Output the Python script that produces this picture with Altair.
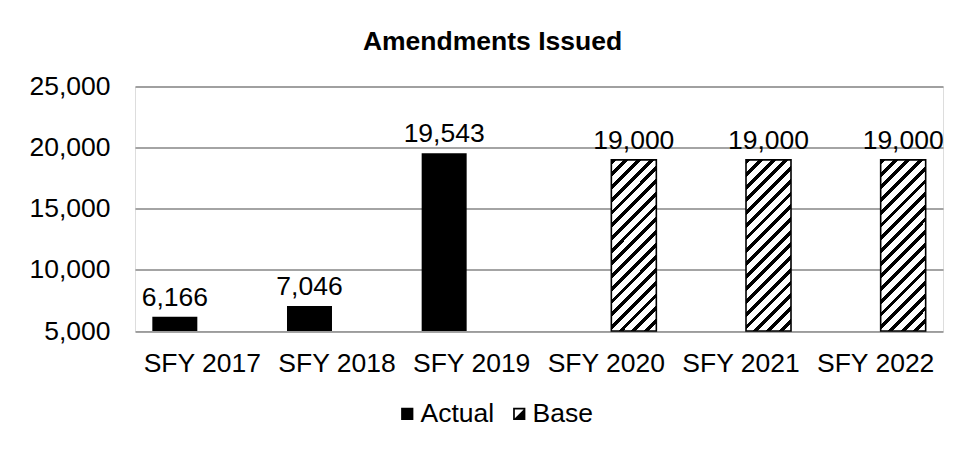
import altair as alt
import pandas as pd

# ---- data ----
years = ["SFY 2017", "SFY 2018", "SFY 2019", "SFY 2020", "SFY 2021", "SFY 2022"]
series_names = ["Actual", "Base"]
actual_years = ["SFY 2017", "SFY 2018", "SFY 2019"]
actual_values = [6166, 7046, 19543]
base_years = ["SFY 2020", "SFY 2021", "SFY 2022"]
base_values = [19000, 19000, 19000]
y_ticks = [5000, 10000, 15000, 20000, 25000]
title_text = "Amendments Issued"

df = pd.DataFrame({
    "year": actual_years + base_years,
    "value": actual_values + base_values,
    "series": ["Actual"] * len(actual_years) + ["Base"] * len(base_years),
})

FONT = "Liberation Sans"
FS = 26.5
GRID = "#868686"

# diagonal hatch fill (style only)
n_periods = 17
black_frac = 0.38
stops = []
for k in range(n_periods):
    a = k / n_periods
    b = (k + black_frac) / n_periods
    c = (k + 1) / n_periods
    stops += [
        {"offset": a, "color": "black"},
        {"offset": b, "color": "black"},
        {"offset": b, "color": "white"},
        {"offset": c, "color": "white"},
    ]
hatch = {"gradient": "linear", "x1": 0, "y1": 0, "x2": 0.311, "y2": 1.181, "stops": stops}

BASE_SYMBOL = ("M-1,-1L1,-1L1,1L-1,1Z"
               "M-0.72,-0.72L-0.72,0.72L0.72,0.72L0.72,-0.72Z"
               "M0.72,-0.72L0.72,0.72L-0.72,0.72Z")

x_enc = alt.X(
    "year:N", sort=years,
    scale=alt.Scale(domain=years, paddingInner=0.2574, paddingOuter=0.1287),
    axis=alt.Axis(title=None, labelAngle=0, ticks=False, tickSize=0, domain=False,
                  labelPadding=19, labelFontSize=FS, labelColor="black",
                  labelFont=FONT, labelOverlap=False, grid=False),
)
xo_enc = alt.XOffset("series:N", scale=alt.Scale(domain=series_names, paddingInner=0.182, paddingOuter=0))
y_enc = alt.Y(
    "value:Q",
    scale=alt.Scale(domain=[5000, 25000], nice=False, zero=False),
    axis=alt.Axis(title=None, values=y_ticks, format=",d", ticks=False, tickSize=0,
                  domain=False, labelPadding=25, labelFontSize=FS, labelColor="black",
                  labelFont=FONT, gridColor=GRID, gridWidth=1.5),
)

base = alt.Chart(df)

legend = alt.Legend(title=None, orient="none", legendX=259, legendY=314,
                    direction="horizontal", labelFontSize=FS, labelFont=FONT,
                    labelColor="black", symbolSize=150, symbolOpacity=1,
                    labelOffset=0, columnPadding=11)

legend_layer = base.mark_point(filled=True, opacity=0).encode(
    x=x_enc, xOffset=xo_enc, y=y_enc,
    color=alt.Color("series:N", scale=alt.Scale(domain=series_names, range=["black", "black"]), legend=legend),
    shape=alt.Shape("series:N", scale=alt.Scale(domain=series_names, range=["square", BASE_SYMBOL]), legend=legend),
)

actual_bars = base.transform_filter(alt.datum.series == "Actual").mark_bar(color="black").encode(
    x=x_enc, xOffset=xo_enc, y=y_enc, y2=alt.datum(5000)
)
base_bars = base.transform_filter(alt.datum.series == "Base").mark_bar(
    fill=hatch, stroke="black", strokeWidth=1.6
).encode(x=x_enc, xOffset=xo_enc, y=y_enc, y2=alt.datum(5000))

labels = base.mark_text(dy=-11, baseline="alphabetic", fontSize=FS, font=FONT, color="black").encode(
    x=x_enc, xOffset=xo_enc, y=y_enc, text=alt.Text("value:Q", format=",")
)

chart = alt.layer(legend_layer, actual_bars, base_bars, labels).properties(
    width=808, height=244.5,
    title=alt.TitleParams(title_text, fontSize=FS, fontWeight="bold", font=FONT, color="black",
                          anchor="middle", frame="group", dx=-46.5, dy=3, baseline="alphabetic", offset=0),
    autosize=alt.AutoSizeParams(type="none"),
    padding={"left": 127, "top": 78.5, "right": 26, "bottom": 113},
).configure_view(stroke=None).configure(font=FONT, background="white")

chart.save("out.html", embed_options={"renderer": "svg", "actions": False})
